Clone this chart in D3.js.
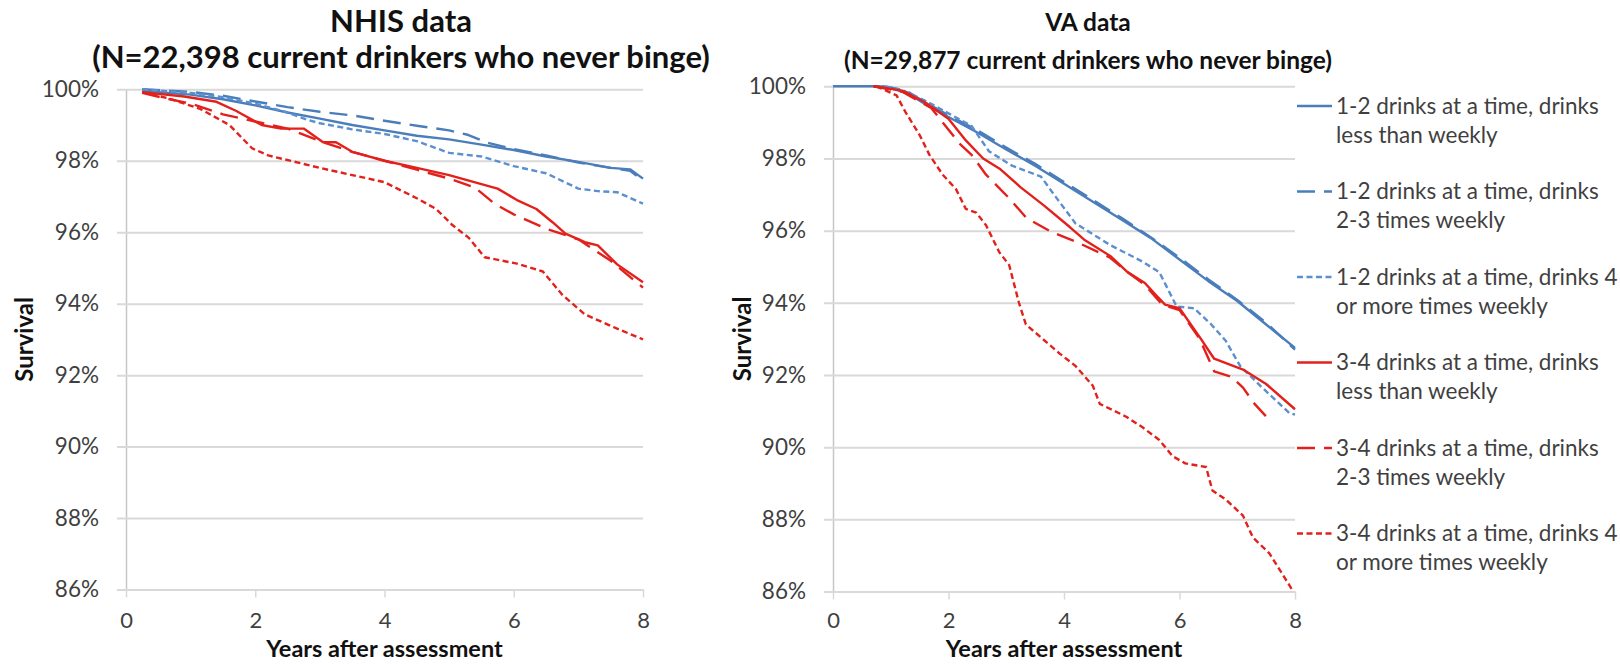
<!DOCTYPE html>
<html>
<head>
<meta charset="utf-8">
<script src="https://cdn.jsdelivr.net/npm/d3@7"></script>
<style>
  body { margin: 0; background: #fff; }
  text { font-family: Lato, "Open Sans", sans-serif; }
</style>
</head>
<body>
<svg id="chart" width="1620" height="664"></svg>
<script>
// tick labels
const xTicks = [0, 2, 4, 6, 8];
const yTicks = [100, 98, 96, 94, 92, 90, 88, 86];

// legend text, two lines per entry
const legendLines = [
  ["1-2 drinks at a time, drinks", "less than weekly"],
  ["1-2 drinks at a time, drinks", "2-3 times weekly"],
  ["1-2 drinks at a time, drinks 4", "or more times weekly"],
  ["3-4 drinks at a time, drinks", "less than weekly"],
  ["3-4 drinks at a time, drinks", "2-3 times weekly"],
  ["3-4 drinks at a time, drinks 4", "or more times weekly"]
];

// NHIS survival curves: [years, survival %]
const nhis12Less = [[0.25,99.95],[0.5,99.92],[1.0,99.85],[1.5,99.72],[2.0,99.55],[2.5,99.35],[3.0,99.18],[3.5,99.0],[4.0,98.85],[4.5,98.7],[5.0,98.6],[5.5,98.45],[6.0,98.3],[6.5,98.12],[7.0,97.97],[7.5,97.8],[7.8,97.76],[8.0,97.5]];
const nhis12Week = [[0.25,100],[1.0,99.93],[1.5,99.82],[2.0,99.66],[2.5,99.5],[3.0,99.37],[3.5,99.27],[4.0,99.12],[4.5,98.98],[5.0,98.85],[5.3,98.72],[5.6,98.5],[6.0,98.33],[6.5,98.15],[7.0,97.95],[7.5,97.8],[7.8,97.72],[8.0,97.45]];
const nhis12Four = [[0.25,100],[1.0,99.9],[1.5,99.78],[2.0,99.6],[2.5,99.35],[2.8,99.15],[3.0,99.05],[3.5,98.88],[4.0,98.75],[4.5,98.55],[5.0,98.22],[5.5,98.12],[6.0,97.85],[6.5,97.65],[7.0,97.22],[7.3,97.15],[7.6,97.12],[8.0,96.8]];
const nhis34Less = [[0.25,99.92],[0.9,99.8],[1.4,99.65],[1.7,99.4],[2.1,99.0],[2.4,98.9],[2.75,98.9],[3.05,98.52],[3.25,98.52],[3.5,98.25],[4.0,98.0],[4.5,97.8],[5.0,97.6],[5.75,97.22],[6.05,96.9],[6.35,96.65],[6.6,96.28],[6.8,95.96],[7.1,95.72],[7.3,95.63],[7.6,95.1],[8.0,94.6]];
const nhis34Week = [[0.25,99.9],[0.6,99.75],[1.0,99.6],[1.5,99.3],[2.0,99.1],[2.5,98.9],[3.0,98.55],[3.5,98.25],[4.0,98.0],[4.5,97.75],[5.0,97.5],[5.4,97.25],[5.7,96.8],[6.0,96.5],[6.5,96.1],[7.0,95.8],[7.5,95.2],[8.0,94.45]];
const nhis34Four = [[0.25,99.92],[0.65,99.75],[1.15,99.45],[1.6,99.0],[1.95,98.35],[2.2,98.15],[3.0,97.8],[3.5,97.6],[4.0,97.4],[4.5,96.95],[4.8,96.65],[5.05,96.2],[5.3,95.85],[5.55,95.3],[6.05,95.12],[6.45,94.9],[6.75,94.25],[7.1,93.7],[7.6,93.3],[8.0,93.0]];

// VA survival curves: [years, survival %]
const va12Less = [[0,100],[0.8,100],[1.0,99.95],[1.3,99.8],[1.6,99.5],[2.0,99.15],[2.5,98.72],[3.0,98.25],[3.5,97.8],[4.0,97.3],[4.5,96.8],[5.0,96.3],[5.5,95.8],[6.0,95.2],[6.5,94.6],[7.0,94.05],[7.5,93.4],[8.0,92.75]];
const va12Week = [[0.85,100],[1.0,99.97],[1.3,99.85],[1.6,99.55],[2.0,99.2],[2.5,98.78],[3.0,98.3],[3.5,97.85],[4.0,97.35],[4.5,96.85],[5.0,96.35],[5.5,95.82],[6.0,95.25],[6.5,94.65],[7.0,94.08],[7.5,93.45],[8.0,92.7]];
const va12Four = [[0.9,100],[1.2,99.9],[1.6,99.6],[2.0,99.25],[2.4,98.9],[2.7,98.2],[3.1,97.8],[3.6,97.5],[3.85,96.95],[4.2,96.2],[4.8,95.6],[5.35,95.15],[5.65,94.85],[5.95,93.9],[6.25,93.85],[6.55,93.4],[6.8,92.95],[7.05,92.25],[7.4,91.7],[7.9,90.95],[8.0,90.9]];
const va34Less = [[0.7,100],[1.2,99.88],[1.6,99.55],[2.0,99.1],[2.3,98.5],[2.6,98.0],[2.9,97.7],[3.25,97.2],[3.65,96.7],[4.1,96.1],[4.35,95.75],[4.8,95.3],[5.1,94.85],[5.4,94.55],[5.6,94.2],[5.75,93.95],[6.0,93.85],[6.35,93.05],[6.6,92.45],[7.1,92.15],[7.5,91.75],[8.0,91.05]];
const va34Week = [[0.7,100],[1.2,99.85],[1.7,99.4],[2.2,98.4],[2.4,98.1],[2.65,97.55],[3.05,96.9],[3.35,96.35],[3.8,95.95],[4.2,95.7],[4.8,95.25],[5.1,94.85],[5.4,94.5],[5.7,93.95],[6.0,93.8],[6.35,93.0],[6.6,92.1],[6.9,91.95],[7.1,91.65],[7.3,91.2],[7.5,90.85]];
const va34Four = [[0.75,100],[1.1,99.75],[1.25,99.3],[1.5,98.65],[1.67,98.1],[1.9,97.55],[2.13,97.15],[2.3,96.6],[2.48,96.5],[2.65,96.15],[2.88,95.4],[3.05,95.05],[3.22,94.0],[3.34,93.4],[3.63,93.0],[3.92,92.6],[4.2,92.25],[4.5,91.7],[4.62,91.2],[5.07,90.85],[5.36,90.55],[5.65,90.2],[5.88,89.75],[6.1,89.55],[6.46,89.45],[6.57,88.8],[6.8,88.55],[7.1,88.1],[7.27,87.5],[7.56,87.05],[7.95,86.05]];

// line look, same order as the legend
const lineStyles = [
  { color: "#4a7ebb", dash: null },
  { color: "#4a7ebb", dash: "18,9" },
  { color: "#5b8fcf", dash: "6,3.5" },
  { color: "#e3211c", dash: null },
  { color: "#e3211c", dash: "18,9" },
  { color: "#e3211c", dash: "6,3.5" }
];

const svg = d3.select("#chart");

function drawPanel(p) {
  const x = d3.scaleLinear().domain([0, 8]).range([p.left, p.right]);
  const y = d3.scaleLinear().domain([86, 100]).range([p.bottom, p.top]);
  const g = svg.append("g");

  // y axis + horizontal gridlines
  const gy = g.append("g")
      .attr("transform", `translate(${p.left},0)`)
      .call(d3.axisLeft(y)
          .tickValues(yTicks)
          .tickSizeInner(-(p.right - p.left))
          .tickSizeOuter(0)
          .tickPadding(27)
          .tickFormat(d => d + "%"));
  gy.select(".domain").attr("stroke", "#c6c6c6").attr("stroke-width", 1.5);
  gy.selectAll(".tick line").attr("x1", -9).attr("stroke", "#d9d9d9").attr("stroke-width", 2);
  gy.selectAll(".tick text").attr("fill", "#3f3f3f").style("font-size", "22.5px");

  // x axis
  const gx = g.append("g")
      .attr("transform", `translate(0,${p.bottom})`)
      .call(d3.axisBottom(x)
          .tickValues(xTicks)
          .tickSizeInner(8)
          .tickSizeOuter(0)
          .tickPadding(p.tickPad));
  gx.select(".domain").attr("stroke", "#d9d9d9").attr("stroke-width", 2);
  gx.selectAll(".tick line").attr("stroke", "#d9d9d9").attr("stroke-width", 1.5);
  gx.selectAll(".tick text").attr("fill", "#3f3f3f").style("font-size", "22px");

  // curves
  const line = d3.line().x(d => x(d[0])).y(d => y(d[1]));
  g.append("g").selectAll("path")
    .data(p.series)
    .enter()
    .append("path")
    .attr("d", line)
    .attr("fill", "none")
    .attr("stroke", (d, i) => lineStyles[i].color)
    .attr("stroke-dasharray", (d, i) => lineStyles[i].dash)
    .attr("stroke-width", 2.4)
    .attr("stroke-linejoin", "round");

  // titles
  const t = g.append("text")
      .attr("text-anchor", "middle")
      .attr("font-weight", "bold")
      .style("font-size", p.titleSize + "px")
      .attr("fill", "#111");
  t.append("tspan").attr("x", p.titleX).attr("y", p.titleY1).text(p.title[0]);
  t.append("tspan").attr("x", p.titleX).attr("y", p.titleY2).text(p.title[1]);

  g.append("text")
      .attr("transform", `translate(${p.survX},${(p.top + p.bottom) / 2}) rotate(-90)`)
      .attr("text-anchor", "middle")
      .attr("font-weight", "bold")
      .style("font-size", "24px")
      .attr("fill", "#111")
      .text("Survival");

  g.append("text")
      .attr("x", (p.left + p.right) / 2)
      .attr("y", 657)
      .attr("text-anchor", "middle")
      .attr("font-weight", "bold")
      .style("font-size", "23.5px")
      .attr("fill", "#111")
      .text("Years after assessment");

  return g;
}

drawPanel({
  left: 126, right: 643, top: 89.3, bottom: 589.5, tickPad: 15,
  series: [nhis12Less, nhis12Week, nhis12Four, nhis34Less, nhis34Week, nhis34Four],
  title: ["NHIS data", "(N=22,398 current drinkers who never binge)"],
  titleX: 401, titleY1: 32, titleY2: 68, titleSize: 31,
  survX: 33
});

drawPanel({
  left: 833, right: 1295, top: 86.3, bottom: 591.5, tickPad: 13,
  series: [va12Less, va12Week, va12Four, va34Less, va34Week, va34Four],
  title: ["VA data", "(N=29,877 current drinkers who never binge)"],
  titleX: 1088, titleY1: 31, titleY2: 69, titleSize: 24.5,
  survX: 751
});

// legend
const legend = svg.append("g").attr("transform", "translate(1297,106)");
const item = legend.selectAll("g")
  .data(legendLines)
  .enter()
  .append("g")
  .attr("transform", (d, i) => `translate(0,${i * 85.5})`);

item.append("line")
  .attr("x1", 0).attr("x2", 35)
  .attr("stroke", (d, i) => lineStyles[i].color)
  .attr("stroke-dasharray", (d, i) => lineStyles[i].dash)
  .attr("stroke-width", 2.4);

item.append("text")
  .attr("fill", "#3f3f3f")
  .style("font-size", "22.5px")
  .selectAll("tspan")
  .data(d => d)
  .enter()
  .append("tspan")
  .attr("x", 39)
  .attr("y", (d, j) => j * 29)
  .attr("dy", "0.35em")
  .text(d => d);
</script>
</body>
</html>
